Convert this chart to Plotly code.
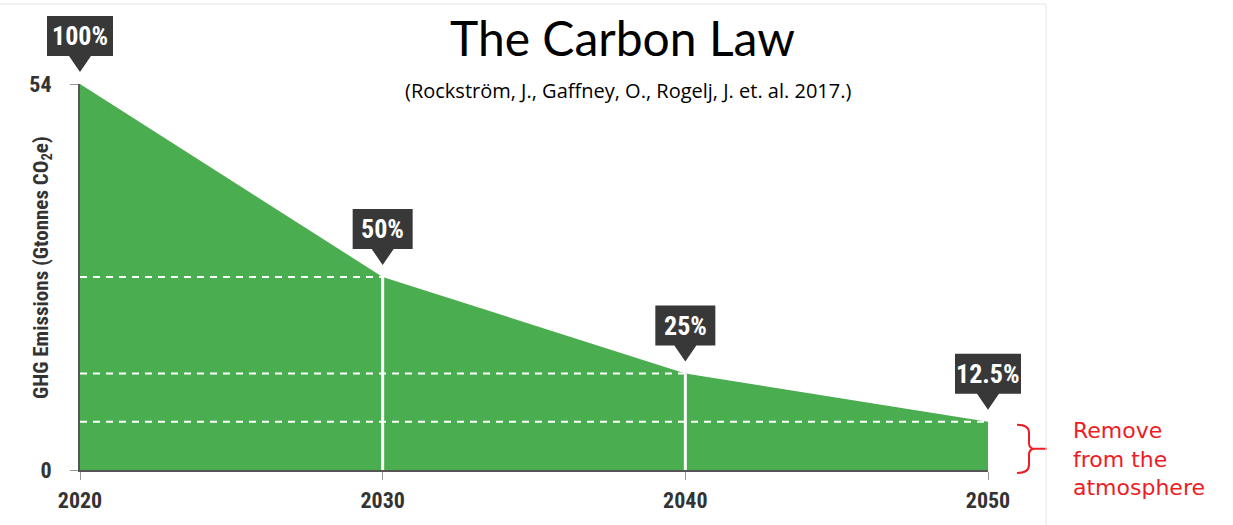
import plotly.graph_objects as go

# Emission pathway: halving every decade
years = [2020, 2030, 2040, 2050]
emissions = [54, 27, 13.5, 6.75]          # Gt CO2e
share_labels = ["100%", "50%", "25%", "12.5%"]
y_ticks = [0, 54]
x_tick_labels = ["2020", "2030", "2040", "2050"]

title_text = "The Carbon Law"
source_text = "(Rockström, J., Gaffney, O., Rogelj, J. et. al. 2017.)"
note_lines = ["Remove", "from the", "atmosphere"]

# Canvas and plot area geometry (pixels)
WIDTH, HEIGHT = 1233, 525
ML, MR, MT, MB = 80, 245, 84, 55
PW = WIDTH - ML - MR
PH = HEIGHT - MT - MB
X0, X1 = years[0], years[-1]
Y0, Y1 = y_ticks[0], y_ticks[-1]

GREEN = "#4aad4f"
DARK = "#383838"
RED = "#ee1c25"
NARROW = "Liberation Sans Narrow, Roboto Condensed, DejaVu Sans Condensed, Arial Narrow, sans-serif"


def data_px(x, y):
    """Data coordinates -> pixel position on the canvas."""
    px = ML + (x - X0) / (X1 - X0) * PW
    py = MT + PH - (y - Y0) / (Y1 - Y0) * PH
    return px, py


def paper(px, py):
    """Pixel position -> paper coordinates."""
    return (px - ML) / PW, (MT + PH - py) / PH


fig = go.Figure()

fig.add_trace(go.Scatter(
    x=years, y=emissions, mode="lines", fill="tozeroy",
    fillcolor=GREEN, line=dict(color=GREEN, width=0),
    hoverinfo="skip", showlegend=False,
))

shapes = []
annotations = []

# Dashed reference levels and vertical markers
for yr, val in zip(years[1:], emissions[1:]):
    shapes.append(dict(type="line", xref="x", yref="y", x0=X0, x1=yr, y0=val, y1=val,
                       line=dict(color="white", width=2, dash="7px,6px"), layer="above"))
for yr, val in zip(years[1:-1], emissions[1:-1]):
    shapes.append(dict(type="line", xref="x", yref="y", x0=yr, x1=yr, y0=0, y1=val,
                       line=dict(color="white", width=3), layer="above"))

# Percentage callouts with pointer
GAP, TRI_H, TRI_W, BOX_H = 12, 16, 22, 40
for yr, val, lab in zip(years, emissions, share_labels):
    cx, py = data_px(yr, val)
    tip = py - GAP
    base = tip - TRI_H
    top = base - BOX_H
    w = 42 + 6 * len(lab.replace(".", ""))
    pts = [(cx - w / 2, top), (cx + w / 2, top), (cx + w / 2, base), (cx + TRI_W / 2, base),
           (cx, tip), (cx - TRI_W / 2, base), (cx - w / 2, base)]
    path = "M " + " L ".join("%.5f,%.5f" % paper(*p) for p in pts) + " Z"
    shapes.append(dict(type="path", xref="paper", yref="paper", path=path,
                       fillcolor=DARK, line=dict(width=0), layer="above"))
    tx, ty = paper(cx, (top + base) / 2)
    annotations.append(dict(xref="paper", yref="paper", x=tx, y=ty, text=lab, showarrow=False,
                            xanchor="center", yanchor="middle",
                            font=dict(family=NARROW, size=26, color="white", weight="bold")))

# Bracket for the residual emissions
bx = data_px(X1, 0)[0] + 41
_, b_top = data_px(X1, emissions[-1])
_, b_bot = data_px(X1, 0)
b_top += 3
b_bot += 3
b_mid = (b_top + b_bot) / 2
brace = [
    ("M", bx - 12, b_top), ("Q", bx, b_top, bx, b_top + 8), ("L", bx, b_mid - 6),
    ("Q", bx, b_mid, bx + 6, b_mid), ("L", bx + 18, b_mid), ("M", bx + 6, b_mid),
    ("Q", bx, b_mid, bx, b_mid + 6), ("L", bx, b_bot - 8), ("Q", bx, b_bot, bx - 12, b_bot),
]
parts = []
for seg in brace:
    cmd, coords = seg[0], seg[1:]
    pp = []
    for i in range(0, len(coords), 2):
        pp.append("%.5f,%.5f" % paper(coords[i], coords[i + 1]))
    parts.append(cmd + " " + " ".join(pp))
shapes.append(dict(type="path", xref="paper", yref="paper", path=" ".join(parts),
                   line=dict(color=RED, width=2), layer="above"))

tx, ty = paper(1072, 459)
annotations.append(dict(xref="paper", yref="paper", x=tx, y=ty, text="<br>".join(note_lines),
                        showarrow=False, xanchor="left", yanchor="middle", align="left",
                        borderpad=0,
                        font=dict(family="DejaVu Sans", size=22, color=RED)))

# Light frame lines along the top and right
fx, fy = paper(1046, 4)
_, fb = paper(0, HEIGHT)
fl, _ = paper(0, 0)
shapes.append(dict(type="line", xref="paper", yref="paper", x0=fl, x1=fx, y0=fy, y1=fy,
                   line=dict(color="#e6e6e6", width=1)))
shapes.append(dict(type="line", xref="paper", yref="paper", x0=fx, x1=fx, y0=fy, y1=fb,
                   line=dict(color="#e6e6e6", width=1)))

# Title, source and axis title
tx, ty = paper(622, 37)
annotations.append(dict(xref="paper", yref="paper", x=tx, y=ty, text=title_text, showarrow=False,
                        xanchor="center", yanchor="middle",
                        font=dict(family="Lato", size=48, color="black")))
tx, ty = paper(628, 91)
annotations.append(dict(xref="paper", yref="paper", x=tx, y=ty, text=source_text, showarrow=False,
                        xanchor="center", yanchor="middle",
                        font=dict(family="Open Sans", size=20, color="black")))
tx, ty = paper(42, 268)
annotations.append(dict(xref="paper", yref="paper", x=tx, y=ty,
                        text="GHG Emissions (Gtonnes CO<sub>2</sub>e)", showarrow=False,
                        textangle=-90, xanchor="center", yanchor="middle",
                        font=dict(family=NARROW, size=21, color="#333", weight="bold")))

fig.update_layout(
    width=WIDTH, height=HEIGHT, autosize=False,
    margin=dict(l=ML, r=MR, t=MT, b=MB),
    paper_bgcolor="white", plot_bgcolor="white",
    shapes=shapes, annotations=annotations,
    xaxis=dict(range=[X0, X1], tickvals=years, ticktext=x_tick_labels,
               showgrid=False, zeroline=False, showline=True, linecolor="#555", linewidth=2,
               ticks="outside", ticklen=8, tickcolor="#999", tickwidth=1, ticklabelstandoff=2,
               tickfont=dict(family=NARROW, size=22, color="#333", weight="bold")),
    yaxis=dict(range=[Y0, Y1], tickvals=y_ticks, ticktext=[str(v) for v in y_ticks],
               showgrid=False, zeroline=False, showline=True, linecolor="#555", linewidth=2,
               ticks="outside", ticklen=8, tickcolor="#999", tickwidth=1, ticklabelstandoff=14,
               tickfont=dict(family=NARROW, size=22, color="#333", weight="bold")),
)

fig.write_html("out.html")
